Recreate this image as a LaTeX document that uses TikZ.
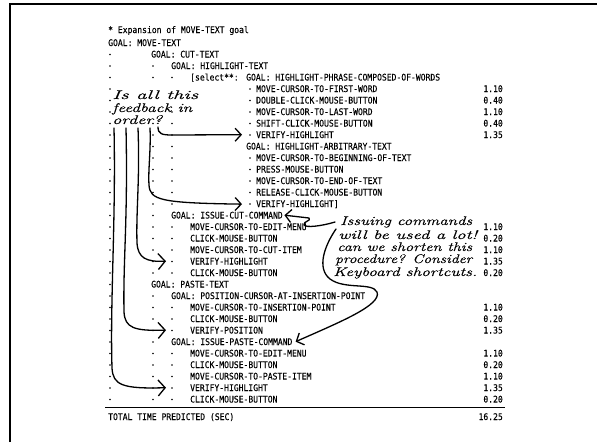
\documentclass[tikz,border=0pt]{standalone}
\usepackage{fontspec}
\usepackage{graphicx}
\usetikzlibrary{arrows.meta}
\newfontfamily\printfont{DejaVu Sans Mono}[FakeBold=0.12]
\newfontfamily\hand{Latin Modern Roman}[FakeBold=0.22]
\newsavebox\handbox
% stretch a handwritten line to a given width
\newcommand\fitto[2]{\sbox\handbox{#2}\pgfmathsetmacro\fitr{#1/\the\wd\handbox}\scalebox{\fitr}[1]{\usebox\handbox}}
% printout pieces: text at column x on row n, timing on row n, dot at column x on row n
\newcommand\tx[4]{\node[prt] (#1) at (#2,{23+11.5*#3}) {\scalebox{0.885}[1]{#4}};}
\newcommand\nm[3]{\node[num] (#1) at (503,{23+11.5*#2}) {\scalebox{0.885}[1]{#3}};}
\newcommand\dt[2]{\fill (#1,{20+11.5*#2}) circle (0.95);}
\newcommand\hw[5]{\node[note] (#1) at (#2,#3) {\fitto{#4}{#5}};}
\tikzset{
  prt/.style={font=\printfont\fontsize{9.1}{10}\selectfont, inner sep=0pt, anchor=base west},
  num/.style={prt, anchor=base east},
  note/.style={font=\hand\itshape\fontsize{12.5}{13}\selectfont, inner sep=0pt, anchor=base west},
  pen/.style={line width=1.3pt, line cap=round, line join=round},
  barb/.style={-{Straight Barb[length=7pt,width=16pt,line width=1.3pt]}},
  smallbarb/.style={-{Straight Barb[length=6pt,width=13pt,line width=1.3pt]}},
}
\begin{document}
\begin{tikzpicture}[x=1pt,y=-1pt]
\useasboundingbox (0,0) rectangle (597,442);
\fill[white] (0,0) rectangle (597,442);
% frame edges
\draw[line width=2.4pt] (10.2,442) -- (10.2,4.2) -- (597,4.2);

% heading
\tx{title}{108}{0.87}{* Expansion of MOVE-TEXT goal}
\tx{r2}{108}{2}{GOAL: MOVE-TEXT}
\tx{r3}{151}{3}{GOAL: CUT-TEXT}
\tx{r4}{171}{4}{GOAL: HIGHLIGHT-TEXT}
\tx{r5a}{190}{5}{[select**:}
\tx{r5}{246}{5}{GOAL: HIGHLIGHT-PHRASE-COMPOSED-OF-WORDS}
\tx{r6}{256}{6}{MOVE-CURSOR-TO-FIRST-WORD}
\tx{r7}{256}{7}{DOUBLE-CLICK-MOUSE-BUTTON}
\tx{r8}{256}{8}{MOVE-CURSOR-TO-LAST-WORD}
\tx{r9}{256}{9}{SHIFT-CLICK-MOUSE-BUTTON}
\tx{r10}{256}{10}{VERIFY-HIGHLIGHT}
\tx{r11}{246}{11}{GOAL: HIGHLIGHT-ARBITRARY-TEXT}
\tx{r12}{256}{12}{MOVE-CURSOR-TO-BEGINNING-OF-TEXT}
\tx{r13}{256}{13}{PRESS-MOUSE-BUTTON}
\tx{r14}{256}{14}{MOVE-CURSOR-TO-END-OF-TEXT}
\tx{r15}{256}{15}{RELEASE-CLICK-MOUSE-BUTTON}
\tx{r16}{256}{16}{VERIFY-HIGHLIGHT]}
\tx{r17}{171}{17}{GOAL: ISSUE-CUT-COMMAND}
\tx{r18}{190}{18}{MOVE-CURSOR-TO-EDIT-MENU}
\tx{r19}{190}{19}{CLICK-MOUSE-BUTTON}
\tx{r20}{190}{20}{MOVE-CURSOR-TO-CUT-ITEM}
\tx{r21}{190}{21}{VERIFY-HIGHLIGHT}
\tx{r22}{190}{22}{CLICK-MOUSE-BUTTON}
\tx{r23}{151}{23}{GOAL: PASTE-TEXT}
\tx{r24}{171}{24}{GOAL: POSITION-CURSOR-AT-INSERTION-POINT}
\tx{r25}{190}{25}{MOVE-CURSOR-TO-INSERTION-POINT}
\tx{r26}{190}{26}{CLICK-MOUSE-BUTTON}
\tx{r27}{190}{27}{VERIFY-POSITION}
\tx{r28}{171}{28}{GOAL: ISSUE-PASTE-COMMAND}
\tx{r29}{190}{29}{MOVE-CURSOR-TO-EDIT-MENU}
\tx{r30}{190}{30}{CLICK-MOUSE-BUTTON}
\tx{r31}{190}{31}{MOVE-CURSOR-TO-PASTE-ITEM}
\tx{r32}{190}{32}{VERIFY-HIGHLIGHT}
\tx{r33}{190}{33}{CLICK-MOUSE-BUTTON}

% timings
\nm{n6}{6}{1.10}
\nm{n7}{7}{0.40}
\nm{n8}{8}{1.10}
\nm{n9}{9}{0.40}
\nm{n10}{10}{1.35}
\nm{n18}{18}{1.10}
\nm{n19}{19}{0.20}
\nm{n20}{20}{1.10}
\nm{n21}{21}{1.35}
\nm{n22}{22}{0.20}
\nm{n25}{25}{1.10}
\nm{n26}{26}{0.20}
\nm{n27}{27}{1.35}
\nm{n29}{29}{1.10}
\nm{n30}{30}{0.20}
\nm{n31}{31}{1.10}
\nm{n32}{32}{1.35}
\nm{n33}{33}{0.20}

% indentation dots
\foreach \r in {3,...,33} {\dt{110}{\r}}
\foreach \r in {4,5,9,10,...,22,24,25,...,33} {\dt{153}{\r}}
\foreach \r in {5,8,9,...,16,18,19,...,22,25,26,27,29,30,...,33} {\dt{172}{\r}}
\foreach \r in {6,...,10,12,13,...,16} {\dt{250}{\r}}

% total
\draw[line width=0.8pt] (105,407.5) -- (505,407.5);
\node[prt] (tot) at (108,420) {\scalebox{0.885}[1]{TOTAL TIME PREDICTED (SEC)}};
\node[num] (totn) at (503,420) {\scalebox{0.885}[1]{16.25}};

% handwritten remarks
\hw{q1}{112}{99}{86}{Is all this}
\hw{q2}{112}{112}{80}{feedback in}
\hw{q3}{112}{124}{50}{order?}
\hw{a1}{340}{225}{132}{Issuing commands}
\hw{a2}{338}{239}{139}{will be used a lot!}
\hw{a3}{337}{251}{135}{can we shorten this}
\hw{a4}{335}{263}{137}{procedure? Consider}
\hw{a5}{333}{276}{144}{Keyboard shortcuts.}

% feedback strokes
\coordinate (s1) at (114,128);
\coordinate (s2) at (126,128);
\coordinate (s3) at (138,128);
\coordinate (s4) at (150,128);
\coordinate (s5) at (158,127);
\draw[pen,barb] (s1) .. controls (116,220) and (110,300) .. (112,368)
  .. controls (113,385) and (122,389) .. ([xshift=-24pt]r32.west);
\draw[pen,barb] (s2) .. controls (128,220) and (123,260) .. (124,312)
  .. controls (125,328) and (134,331) .. ([xshift=-24pt]r27.west);
\draw[pen,barb] (s3) .. controls (140,180) and (136,210) .. (137,243)
  .. controls (138,258) and (146,262) .. ([xshift=-24pt]r21.west);
\draw[pen,smallbarb] (s4) .. controls (151,150) and (148,170) .. (149,185)
  .. controls (150,200) and (160,203) .. ([xshift=-14pt]r16.west);
\draw[pen,smallbarb] (s5) .. controls (158,134) and (162,135) .. (172,135)
  -- ([xshift=-14pt]r10.west);

% strokes from the second remark
\coordinate (c1) at (335,222);
\coordinate (c2) at (336,229);
\draw[pen,smallbarb] (c1) .. controls (322,226) and (306,228) .. (304,225)
  .. controls (303,221) and (312,221) .. (309,218) -- ([xshift=1.5pt]r17.east);
\draw[pen,smallbarb] (c2) .. controls (325,245) and (316,268) .. (330,279)
  .. controls (345,290) and (372,282) .. (377,292)
  .. controls (382,305) and (340,322) .. ([xshift=3pt]r28.east);
\end{tikzpicture}
\end{document}
